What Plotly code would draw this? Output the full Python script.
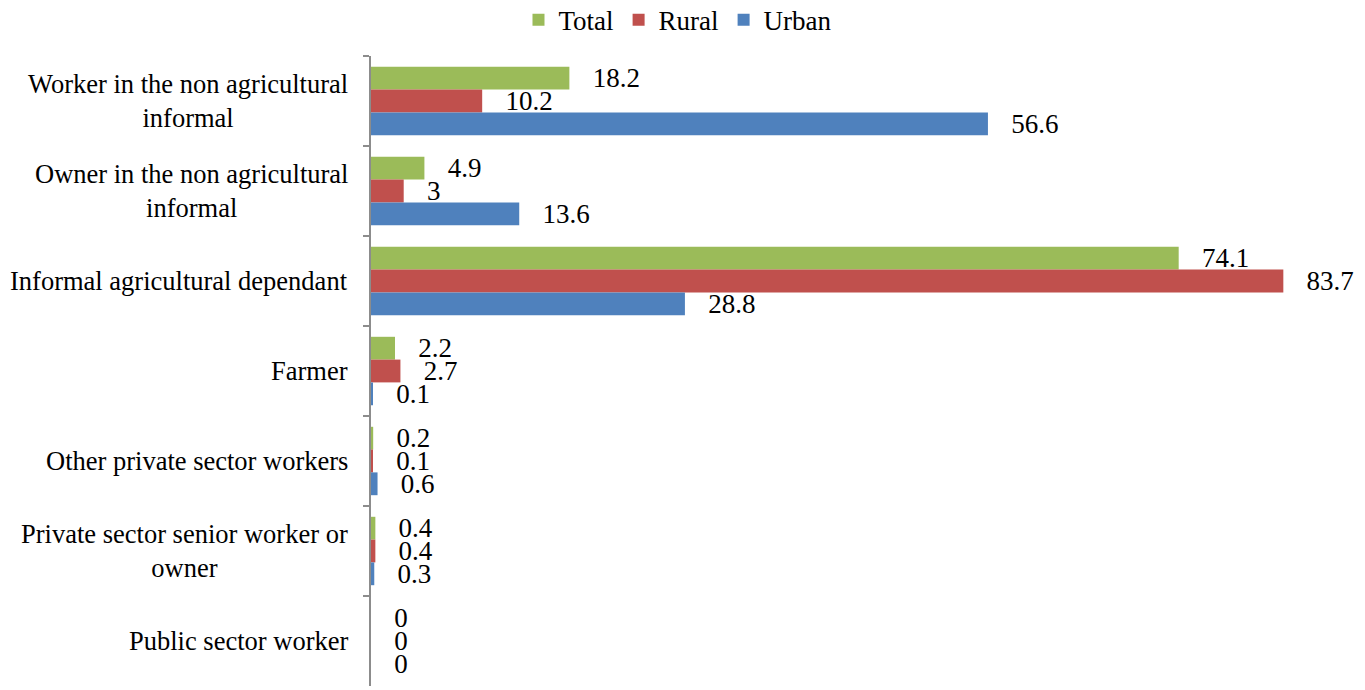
import plotly.graph_objects as go

categories = [
    "Worker in the non agricultural<br>informal",
    "Owner in the non agricultural<br>informal",
    "Informal agricultural dependant",
    "Farmer",
    "Other private sector workers",
    "Private sector senior worker or<br>owner",
    "Public sector worker",
]
total = [18.2, 4.9, 74.1, 2.2, 0.2, 0.4, 0]
rural = [10.2, 3, 83.7, 2.7, 0.1, 0.4, 0]
urban = [56.6, 13.6, 28.8, 0.1, 0.6, 0.3, 0]

series = [("Total", total, "#9BBB59"), ("Rural", rural, "#C0504D"), ("Urban", urban, "#4F81BD")]

FONT = "Liberation Serif"

fig = go.Figure()
for name, vals, col in series:
    fig.add_trace(go.Bar(
        y=categories, x=vals, name=name, orientation="h",
        marker=dict(color=col, line=dict(width=0)),
        text=[str(v) for v in vals],
        texttemplate="\u00a0\u00a0\u00a0%{text}",
        textposition="outside", cliponaxis=False, constraintext="none",
        textfont=dict(family=FONT, size=27, color="black"),
    ))

# category labels as centered multi-line annotations
for cat in categories:
    fig.add_annotation(x=0, xref="paper", y=cat, yref="y", text=cat,
                       xanchor="right", yanchor="middle", align="center",
                       xshift=-21, showarrow=False,
                       font=dict(family=FONT, size=26.5, color="black"))

fig.update_layout(
    barmode="group", bargap=0.24, bargroupgap=0,
    width=1365, height=690,
    margin=dict(l=371, r=13, t=56, b=4, autoexpand=False),
    plot_bgcolor="white", paper_bgcolor="white",
    font=dict(family=FONT, size=26, color="black"),
    legend=dict(orientation="h", x=0.4967, xanchor="center", xref="container",
                y=1.057, yanchor="middle", yref="paper",
                font=dict(family=FONT, size=27),
                itemwidth=30, tracegroupgap=0),
    uniformtext=dict(mode=False),
)
fig.update_xaxes(range=[0, 90], visible=False, showgrid=False, zeroline=False, automargin=False)
fig.update_yaxes(autorange="reversed", showline=True, linecolor="#8c8c8c", linewidth=2,
                 ticks="outside", tickson="boundaries", ticklen=6, tickcolor="#8c8c8c",
                 tickwidth=2, showgrid=False, showticklabels=False, automargin=False)

fig.write_html("out.html", config={"displayModeBar": False},
               post_script="document.body.style.margin='0px';")
